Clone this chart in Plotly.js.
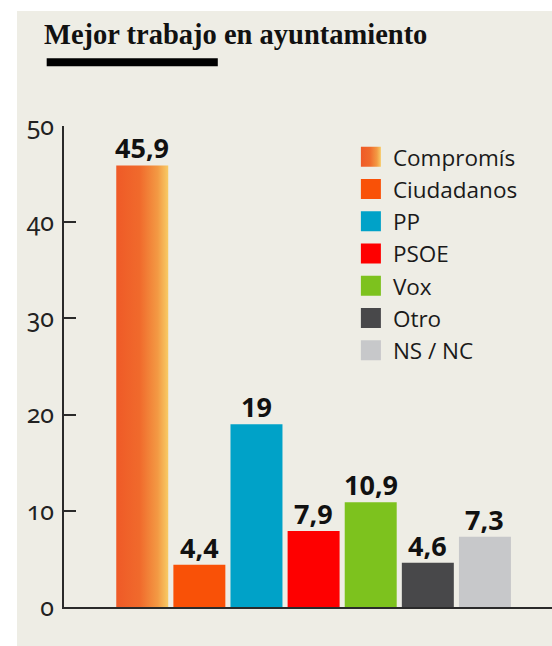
<!DOCTYPE html>
<html>
<head>
<meta charset="utf-8">
<script src="https://cdn.plot.ly/plotly-3.0.1.min.js"></script>
<style>
  html, body { margin: 0; padding: 0; background: #ffffff; }
  #chart { position: absolute; left: 17px; top: 11px; width: 535px; height: 635px; }
  #chart .ytick text { font-feature-settings: "onum" 1; }
</style>
</head>
<body>
<div id="chart"></div>
<script>
const categories = ["Compromís", "Ciudadanos", "PP", "PSOE", "Vox", "Otro", "NS / NC"];
const values = [45.9, 4.4, 19, 7.9, 10.9, 4.6, 7.3];
const valueLabels = ["45,9", "4,4", "19", "7,9", "10,9", "4,6", "7,3"];
const colors = ["#F05A28", "#F95107", "#00A2C8", "#FE0000", "#7DC21E", "#48484A", "#C7C8CA"];
const yTicks = [0, 10, 20, 30, 40, 50];

const bg = "#EEEDE5";

const traces = categories.map((c, i) => ({
  type: "bar",
  name: c,
  x: [c],
  y: [values[i]],
  marker: { color: colors[i], line: { width: 0 } },
  hoverinfo: "skip",
  showlegend: true
}));

const annotations = categories.map((c, i) => ({
  x: c, y: values[i], xref: "x", yref: "y",
  text: valueLabels[i],
  showarrow: false,
  yanchor: "bottom",
  yshift: -3,
  font: { family: "Open Sans", size: 27, color: "#111111", weight: 700 }
}));

// page-pixel helpers for the decorative underline (plot area: x 64.3..552, y 125.7..606.7)
const px = v => (v - 64.3) / 487.7;
const py = v => (606.7 - v) / 481;

const layout = {
  width: 535, height: 635,
  margin: { l: 47, r: 0, t: 115, b: 39 },
  paper_bgcolor: bg,
  plot_bgcolor: bg,
  barmode: "overlay",
  bargap: 0.09,
  title: {
    text: "Mejor trabajo en ayuntamiento",
    font: { family: "Liberation Serif", size: 28.5, color: "#111111", weight: 700 },
    xref: "container", yref: "container",
    x: 27 / 535, xanchor: "left",
    y: 1 - 13 / 635, yanchor: "top"
  },
  xaxis: {
    type: "category",
    categoryarray: categories,
    range: [-1.37, 7.174],
    showticklabels: false,
    ticks: "",
    showgrid: false,
    zeroline: false,
    showline: true,
    linecolor: "#2a2a2a",
    linewidth: 2,
    fixedrange: true
  },
  yaxis: {
    range: [0, 50],
    tickvals: yTicks,
    ticktext: yTicks.map(String),
    ticks: "inside",
    ticklen: 12,
    tickwidth: 2,
    tickcolor: "#2a2a2a",
    ticklabelstandoff: 3,
    showgrid: false,
    zeroline: false,
    showline: true,
    linecolor: "#2a2a2a",
    linewidth: 2,
    tickfont: { family: "Noto Sans", size: 25, color: "#222222" },
    fixedrange: true
  },
  legend: {
    x: 0.592, xanchor: "left",
    y: 0.98, yanchor: "top",
    bgcolor: "rgba(0,0,0,0)",
    font: { family: "Open Sans", size: 22.5, color: "#1a1a1a" },
    traceorder: "normal"
  },
  shapes: [{
    type: "rect", xref: "paper", yref: "paper",
    x0: px(47), x1: px(218), y0: py(66), y1: py(58),
    fillcolor: "#000000", line: { width: 0 }
  }],
  annotations: annotations
};

Plotly.newPlot("chart", traces, layout, { displayModeBar: false, staticPlot: true }).then(gd => {
  const ns = "http://www.w3.org/2000/svg";
  const svg = gd.querySelector(".main-svg");
  let defs = svg.querySelector("defs");
  if (!defs) { defs = document.createElementNS(ns, "defs"); svg.insertBefore(defs, svg.firstChild); }
  const grad = document.createElementNS(ns, "linearGradient");
  grad.setAttribute("id", "compGrad");
  grad.setAttribute("x1", "0"); grad.setAttribute("x2", "1");
  grad.setAttribute("y1", "0"); grad.setAttribute("y2", "0");
  [["0", "#EF5A27"], ["0.45", "#F06A2C"], ["0.8", "#F39A44"], ["1", "#F8CB66"]].forEach(([o, c]) => {
    const s = document.createElementNS(ns, "stop");
    s.setAttribute("offset", o); s.setAttribute("stop-color", c);
    grad.appendChild(s);
  });
  defs.appendChild(grad);
  const barPath = gd.querySelectorAll(".barlayer .trace")[0].querySelector("path");
  if (barPath) barPath.style.fill = "url(#compGrad)";
  gd.querySelectorAll(".legend .traces").forEach((t, i) => {
    const p = t.querySelector(".legendpoints path");
    if (p) {
      p.setAttribute("d", "M10,10H-10V-10H10Z");
      p.setAttribute("transform", "translate(18,0)");
      if (i === 0) p.style.fill = "url(#compGrad)";
    }
  });
});
</script>
</body>
</html>
